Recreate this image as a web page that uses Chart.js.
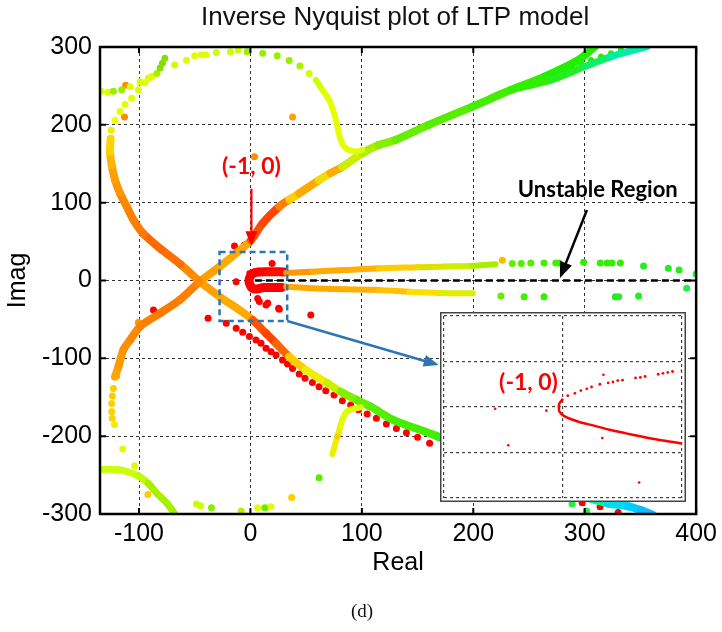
<!DOCTYPE html>
<html>
<head>
<meta charset="utf-8">
<script src="https://cdn.jsdelivr.net/npm/chart.js@4.4.1/dist/chart.umd.min.js"></script>
<style>
  html, body { margin: 0; padding: 0; background: #fff; }
  #wrap { position: relative; width: 722px; height: 632px; }
  #main { position: absolute; left: 0; top: 0; }
  #inset { position: absolute; left: 440px; top: 312px; }
</style>
</head>
<body>
<div id="wrap">
  <canvas id="main" width="722" height="632"></canvas>
  <canvas id="inset" width="246" height="190"></canvas>
</div>
<script>
// ---- tick labels
const xTicks = [-100, 0, 100, 200, 300, 400]
const yTicks = [-300, -200, -100, 0, 100, 200, 300]
const insetXTicks = [-1, 0, 1]
const insetYTicks = [-2, -1, 0, 1, 2]

// ---- thick bands (Real, Imag)
const loopBand = [[-45.5,-1.5],[-63,21],[-80,40],[-96,60],[-105,78],[-111,95],[-117,112],[-121.5,129],[-124.5,148],[-126,165],[-125.5,182]]
const loopBandColors = ['#ff8c00','#ff7000','#ff6a00','#ff7a00','#ff8000','#ff8800','#ff9500','#ffa000','#ffb400','#ffd200','#ffe600']

const armA = [[-121.5,-123.6],[-118.5,-111],[-114,-89],[-108,-76.5],[-99,-59],[-81,-42],[-63.4,-25],[-45.5,-1.5],[-27.7,17.7],[-12.8,35],[0.6,52],[11,73.5],[25.9,95],[35,104],[43.8,112],[61.6,129],[72,138],[82.5,146],[100.3,163.5],[115,174],[130,180.6],[160,200],[198.6,223],[234,245],[264,262],[294,283],[308.8,300]]
const armAColors = ['#ffa500','#ff9900','#ff9000','#ff8800','#ff8000','#ff7800','#ff8000','#ffa000','#ffaa00','#ffaa00','#ff5000','#ff4400','#ff8000','#ffd000','#ffaa00','#eedd00','#ffaa00','#ccee00','#aaee00','#88ee00','#66ee00','#55ee00','#44ee00','#33ee00','#22ee00','#22ee00','#22ee00']

const armA2 = [[234,245],[270,257.7],[299.8,274.8],[323.6,287.7],[356,300.5]]
const armA2Colors = ['#33ee00','#22ee22','#11ee66','#00eeaa','#00eebb']

const armB = [[-45.5,-1.5],[-27.7,-20.8],[-9.8,-38],[2,-50.8],[14,-68],[23,-80.7],[34.8,-98],[49.7,-115],[69,-132],[81,-143],[95.8,-153.6],[107.8,-162],[128,-179],[168.8,-200.8],[220,-235],[270,-265],[320.6,-286.4],[338.5,-290],[350.4,-295],[361,-301]]
const armBColors = ['#ffa000','#ffaa00','#ffaa00','#ff5500','#ff4400','#ff6600','#ffcc00','#eeee00','#ccee00','#88ee00','#66ee00','#55ee00','#44ee00','#33ee11','#22ee44','#11ee99','#00ddee','#00ccff','#11bbff','#22aaff']

const hookTop = [[58.7,257.7],[64.6,245],[70.6,232],[75,215],[78,198],[81,180.6],[85.5,170],[94.4,165.5],[100.3,167.7]]
const hookTopColors = ['#ccff00','#e0ff00','#e6ff00','#e6ff00','#e6ff00','#e6ff00','#e6ff00','#ddff00','#ccff00']

const hookBottom = [[73.5,-223],[75.6,-212.7],[78,-200.7],[79.5,-194],[81,-185.7],[82.5,-178.4],[85.5,-170],[90,-165.6],[99,-163]]
const hookBottomColors = ['#eeee00','#eeee00','#ffcc00','#eeee00','#e0ff00','#e0ff00','#ddff00','#ddff00','#ccff00']

const bottomLeft = [[-134,-242.7],[-121.5,-242.7],[-112.5,-244.5],[-100.6,-251],[-91.7,-260.7],[-84,-273.5],[-75,-286],[-67.9,-300]]
const bottomLeftColors = ['#ccff00','#ccff00','#ccff00','#bbff00','#aaee00','#aaee00','#aaee00','#aaee00']

const upperFlat = [[-1,9.2],[15,10],[32,10],[55.6,11.3],[85.5,13.5],[115,15.7],[150,17],[175,18],[199,19],[220,21]]
const upperFlatColors = ['#ff0000','#ff1000','#ff9900','#ffaa00','#ffb000','#ffcc00','#e0e000','#ccee00','#aaee00','#99ee00']

const lowerFlat = [[14,-8],[32,-8],[55.6,-10],[85.5,-11.3],[115,-12.2],[143,-14.4],[170,-16],[199.5,-16.5]]
const lowerFlatColors = ['#ff0000','#ffaa00','#ffaa00','#ffb000','#ffc000','#ffdd00','#ddee00','#ccee00']

const redHook = [[30,11],[15.5,11.3],[3.6,10],[-0.9,2.8],[-0.3,-5.8],[3.6,-11],[12,-9],[28,-9]]

// ---- sparse points
const loopDots = [[-125,193],[-121.5,206],[-117,217],[-112.5,226],[-106.6,234],[-100.6,245],[-94.7,254],[-88.7,262],[-84,266],[-81,273],[-79,279],[-76.8,285.6],[-67.9,277],[-57.4,283],[-50,288.6],[-44,290],[-40,290],[-30.6,293],[-17.9,294],[-11,296],[-3,294],[11,292],[24,288.6],[34.8,282.5],[44.4,275.7],[52.7,266],
  [-134,243],[-128,242],[-123,243],[-115.5,245],[-108,249],[-99,255.5],[-91.7,260]]
const loopDotColors = ['#eeee00','#eeff00','#e0ff00','#e0ff00','#e0ff00','#e0ff00','#ddff00','#ddff00','#aaee00','#88dd00','#88dd00','#88dd00','#ccff00','#ddff00','#ddff00','#ddff00','#ddff00','#ccff00','#ccff00','#ccff00','#99ee00','#99ee00','#99ee00','#99ee00','#aaee00','#ccff00',
  '#ddff00','#ddff00','#99ee00','#99ee00','#ddff00','#ddff00','#ddff00']

const lowDots = [[-120,-122.8],[-123,-138.6],[-124,-148.5],[-124.5,-158],[-124.5,-168.6],[-124,-177],[-122,-185],[-114.6,-216.6],[-104,-238],[-92,-275],[-48.5,-287],[-44.7,-289.5],[-35,-292],[-8.3,-296],[6.5,-292],[13,-292],[18.5,-290.7],[37,-278.7],[61.6,-253.5],[288.7,-287],[301.6,-296],[-134,-242.7],[-100.6,-251]]
const lowDotColors = ['#ffaa00','#ffcc00','#ffcc00','#ffd000','#ffd000','#ffd500','#eeee00','#ddff00','#ddff00','#ffcc00','#ccff00','#ccff00','#88ee00','#bbee00','#ddff00','#66ee00','#ddff00','#ffcc00','#55ee00','#22ee44','#22ee44','#66ee00','#77ee00']

const strayDots = [[-112,251],[-113,210],[3.6,159],[37.8,210],[-100.6,-54]]
const strayDotColors = ['#ff8c00','#ff8c00','#ff8c00','#ffa000','#ff9900']

const upperFlatDots = [[226,26],[235,22],[243,22],[251.6,22.5],[263.5,22.5],[274,22.5],[277,22.5],[299,23.5],[314,22.5],[320,22.5],[324.5,22.5],[332,22.5],[352.8,18.6],[375,15.6],[384.7,13.5],[400,8.4]]
const upperFlatDotColors = ['#ffbb00','#66ee00','#55ee00','#55ee00','#44ee00','#44ee00','#44ee00','#33ee00','#33ee00','#33ee00','#33ee00','#33ee00','#22ee22','#22ee22','#22ee22','#22ee33']

const lowerFlatDots = [[224.8,-20],[245.6,-20.8],[263.5,-20.8],[327.5,-20.8],[330.5,-20.8],[348.3,-20],[391.5,-10]]
const lowerFlatDotColors = ['#66ee00','#44ee00','#33ee00','#22ee22','#22ee22','#22ee22','#22ee44']

const midDots = [[279,268.4],[288,274.8],[296.8,279],[305.7,283.4],[314.6,287.7],[323.6,292],[332.5,297],[340,302.7]]

const redDots = [[19.4,22],[-12.8,-1.5],[6.5,-23],[15.5,-29],[25.3,-35.7],[54.2,-44.3],[-38,-48.6],[-5.4,45.6],[-14.3,44.3],[-87,-38],[8,-27],[14,-31.5],[25.9,-37],
  [-21.7,-55],[-12.8,-61.4],[-6.9,-66.6],[-0.9,-72],[5,-76.5],[9.5,-80.7],[14,-87],[18.5,-91.5],[23,-95.8],[28.8,-102],[33.3,-107.3],[37.8,-113],[43.8,-120],[49,-125.7],[55.6,-131],[61.6,-136.5],[67.6,-141.6],[75,-147],[82.5,-154.5],[90,-160],[97,-166],[104.8,-171.6],[113,-177],[122,-184.5],[131,-190],[140,-195.6],[150,-201.5],[160.8,-209],[297.7,-285.6],[313.8,-290.7],[330,-298]]

// ---- inset (zoom around the -1 point)
const insetCurve = [[0.0,0.18],[-0.03,0.08],[-0.035,0],[-0.03,-0.10],[0.01,-0.20],[0.07,-0.27],[0.15,-0.34],[0.26,-0.41],[0.39,-0.50],[0.53,-0.58],[0.66,-0.65],[0.80,-0.72],[1.0,-0.80]]
const insetUpper = [[0.04,0.25],[0.1,0.30],[0.15,0.36],[0.2,0.40],[0.24,0.44],[0.31,0.50],[0.38,0.53],[0.42,0.55],[0.46,0.58],[0.50,0.59],[0.61,0.64],[0.65,0.65],[0.69,0.67],[0.80,0.72],[0.84,0.74],[0.88,0.76],[0.92,0.78],[1.0,0.80]]
const insetStray = [[0.34,0.71],[-0.57,-0.04],[-0.14,-0.08],[-0.46,-0.84],[0.33,-0.68],[0.64,-1.66]]

const FONT = "'Liberation Sans', Arial, sans-serif"
const BOLD = "Lato, 'Liberation Sans', sans-serif"
const pts = (arr) => arr.map(([x, y]) => ({ x, y }))

function band(arr, colors, width) {
  return {
    data: pts(arr),
    showLine: true,
    borderWidth: width,
    tension: 0.3,
    pointRadius: 0,
    borderCapStyle: "round",
    borderJoinStyle: "round",
    borderColor: colors[0],
    segment: { borderColor: (c) => colors[c.p0DataIndex] },
  }
}

function dots(arr, colors, r) {
  return {
    data: pts(arr),
    showLine: false,
    pointRadius: r,
    pointBorderWidth: 0,
    pointBackgroundColor: colors,
    backgroundColor: colors,
  }
}

function arrow(ctx, x1, y1, x2, y2, color, width, head) {
  const a = Math.atan2(y2 - y1, x2 - x1)
  const c = Math.cos(a), s = Math.sin(a)
  ctx.save()
  ctx.strokeStyle = color
  ctx.fillStyle = color
  ctx.lineWidth = width
  ctx.beginPath()
  ctx.moveTo(x1, y1)
  ctx.lineTo(x2 - head * 0.8 * c, y2 - head * 0.8 * s)
  ctx.stroke()
  ctx.beginPath()
  ctx.moveTo(x2, y2)
  ctx.lineTo(x2 - head * c + head * 0.4 * s, y2 - head * s - head * 0.4 * c)
  ctx.lineTo(x2 - head * c - head * 0.4 * s, y2 - head * s + head * 0.4 * c)
  ctx.closePath()
  ctx.fill()
  ctx.restore()
}

const mainDecor = {
  id: "mainDecor",
  beforeDraw(chart) {
    const ctx = chart.ctx
    ctx.save()
    ctx.fillStyle = "#fff"
    ctx.fillRect(0, 0, chart.width, chart.height)
    ctx.restore()
  },
  afterDatasetsDraw(chart) {
    const { ctx, scales: { x, y } } = chart
    const X = (v) => x.getPixelForValue(v)
    const Y = (v) => y.getPixelForValue(v)
    ctx.save()
    // unstable region line
    ctx.strokeStyle = "#000"
    ctx.lineWidth = 2.5
    ctx.setLineDash([7, 4])
    ctx.beginPath()
    ctx.moveTo(X(4), Y(0))
    ctx.lineTo(X(400), Y(0))
    ctx.stroke()
    // zoom box
    ctx.strokeStyle = "#2e75b6"
    ctx.setLineDash([6, 4])
    ctx.strokeRect(X(-27.7), Y(36.6), X(33) - X(-27.7), Y(-52) - Y(36.6))
    ctx.setLineDash([])
    ctx.restore()
    arrow(ctx, X(33), Y(-52), X(169), Y(-108.6), "#2e75b6", 2.5, 15)
    arrow(ctx, X(0.9), Y(118), X(0.9), Y(44), "#ff0000", 2.2, 15)
    arrow(ctx, X(302), Y(90.6), X(277.8), Y(3.2), "#000", 2.5, 16)
    ctx.save()
    ctx.textAlign = "center"
    ctx.textBaseline = "middle"
    ctx.fillStyle = "#ff0000"
    ctx.font = "bold 23px " + BOLD
    ctx.fillText("(-1, 0)", X(0.9), Y(147))
    ctx.fillStyle = "#000"
    ctx.font = "bold 22px " + BOLD
    ctx.fillText("Unstable Region", X(311.7), Y(117))
    ctx.restore()
  },
  afterDraw(chart) {
    const { ctx, chartArea: a, scales: { x, y } } = chart
    ctx.save()
    ctx.strokeStyle = "#000"
    ctx.lineWidth = 2.5
    ctx.strokeRect(a.left, a.top, a.right - a.left, a.bottom - a.top)
    ctx.lineWidth = 2
    ctx.beginPath()
    xTicks.forEach((v) => {
      const px = x.getPixelForValue(v)
      ctx.moveTo(px, a.bottom); ctx.lineTo(px, a.bottom - 6)
      ctx.moveTo(px, a.top); ctx.lineTo(px, a.top + 6)
    })
    yTicks.forEach((v) => {
      const py = y.getPixelForValue(v)
      ctx.moveTo(a.left, py); ctx.lineTo(a.left + 6, py)
      ctx.moveTo(a.right, py); ctx.lineTo(a.right - 6, py)
    })
    ctx.stroke()
    ctx.fillStyle = "#111"
    ctx.textAlign = "center"
    ctx.textBaseline = "middle"
    ctx.font = "26px " + FONT
    ctx.fillText("Inverse Nyquist plot of LTP model", (a.left + a.right) / 2 - 3, 18)
    ctx.font = "19px 'Liberation Serif', 'Times New Roman', serif"
    ctx.fillText("(d)", 362, 612)
    ctx.restore()
  },
}

const axisFont = { family: FONT, size: 25 }

new Chart(document.getElementById("main"), {
  type: "scatter",
  data: {
    datasets: [
      band(bottomLeft, bottomLeftColors, 7),
      band(hookBottom, hookBottomColors, 6),
      band(hookTop, hookTopColors, 6),
      band(loopBand, loopBandColors, 8),
      band(armB, armBColors, 8),
      band(armA2, armA2Colors, 7),
      band(armA, armAColors, 8),
      band(lowerFlat, lowerFlatColors, 6),
      band(upperFlat, upperFlatColors, 6),
      band(redHook, redHook.map(() => "#ff0000"), 9),
      dots(midDots, midDots.map(() => "#22ee00"), 3),
      dots(loopDots, loopDotColors, 3.5),
      dots(lowDots, lowDotColors, 3.5),
      dots(strayDots, strayDotColors, 3.5),
      dots(upperFlatDots, upperFlatDotColors, 3.5),
      dots(lowerFlatDots, lowerFlatDotColors, 3.5),
      dots(redDots, redDots.map(() => "#ff0000"), 3.5),
    ],
  },
  options: {
    responsive: false,
    animation: false,
    layout: { padding: { top: 47, right: 23, bottom: 53, left: 0 } },
    plugins: { legend: { display: false }, tooltip: { enabled: false } },
    scales: {
      x: {
        type: "linear",
        min: -135,
        max: 400,
        afterBuildTicks: (s) => { s.ticks = xTicks.map((v) => ({ value: v })) },
        afterFit: (s) => { s.height = 65 },
        grid: { color: "#333", lineWidth: 1, drawTicks: false },
        border: { display: false, dash: [3, 3] },
        ticks: { color: "#000", font: axisFont, padding: 5, maxRotation: 0, autoSkip: false },
        title: { display: true, text: "Real", color: "#000", font: axisFont, padding: { top: 0, bottom: 1 } },
      },
      y: {
        type: "linear",
        min: -300,
        max: 300,
        afterBuildTicks: (s) => { s.ticks = yTicks.map((v) => ({ value: v })) },
        afterFit: (s) => { s.width = 100 },
        grid: { color: "#333", lineWidth: 1, drawTicks: false },
        border: { display: false, dash: [3, 3] },
        ticks: { color: "#000", font: axisFont, padding: 8, autoSkip: false },
        title: { display: true, text: "Imag", color: "#000", font: axisFont, padding: { top: 3, bottom: 0 } },
      },
    },
  },
  plugins: [mainDecor],
})

// ---- inset chart
const insetDecor = {
  id: "insetDecor",
  beforeDraw(chart) {
    const ctx = chart.ctx
    ctx.save()
    ctx.fillStyle = "#fff"
    ctx.fillRect(0, 0, chart.width, chart.height)
    ctx.restore()
  },
  afterDraw(chart) {
    const { ctx, scales: { x, y } } = chart
    ctx.save()
    ctx.strokeStyle = "#444"
    ctx.lineWidth = 1.5
    ctx.strokeRect(0.75, 0.75, chart.width - 1.5, chart.height - 1.5)
    ctx.fillStyle = "#ff0000"
    ctx.textAlign = "center"
    ctx.textBaseline = "middle"
    ctx.font = "bold 23px " + BOLD
    ctx.fillText("(-1, 0)", x.getPixelForValue(-0.29), y.getPixelForValue(0.53))
    ctx.restore()
  },
}

const insetScale = (min, max, ticks) => ({
  type: "linear",
  min,
  max,
  afterBuildTicks: (s) => { s.ticks = ticks.map((v) => ({ value: v })) },
  ticks: { display: false },
  grid: { color: "#444", lineWidth: 1.2, drawTicks: false },
  border: { display: false, dash: [3, 3] },
})

new Chart(document.getElementById("inset"), {
  type: "scatter",
  data: {
    datasets: [
      {
        data: pts(insetCurve),
        showLine: true,
        tension: 0.3,
        borderColor: "#ff0000",
        borderWidth: 2.5,
        pointRadius: 0,
      },
      dots(insetUpper, insetUpper.map(() => "#ff0000"), 1.4),
      dots(insetStray, insetStray.map(() => "#ff0000"), 1.3),
    ],
  },
  options: {
    responsive: false,
    animation: false,
    layout: { padding: 0 },
    plugins: { legend: { display: false }, tooltip: { enabled: false } },
    scales: {
      x: insetScale(-1, 1, insetXTicks),
      y: insetScale(-2, 2, insetYTicks),
    },
  },
  plugins: [insetDecor],
})
</script>
</body>
</html>
